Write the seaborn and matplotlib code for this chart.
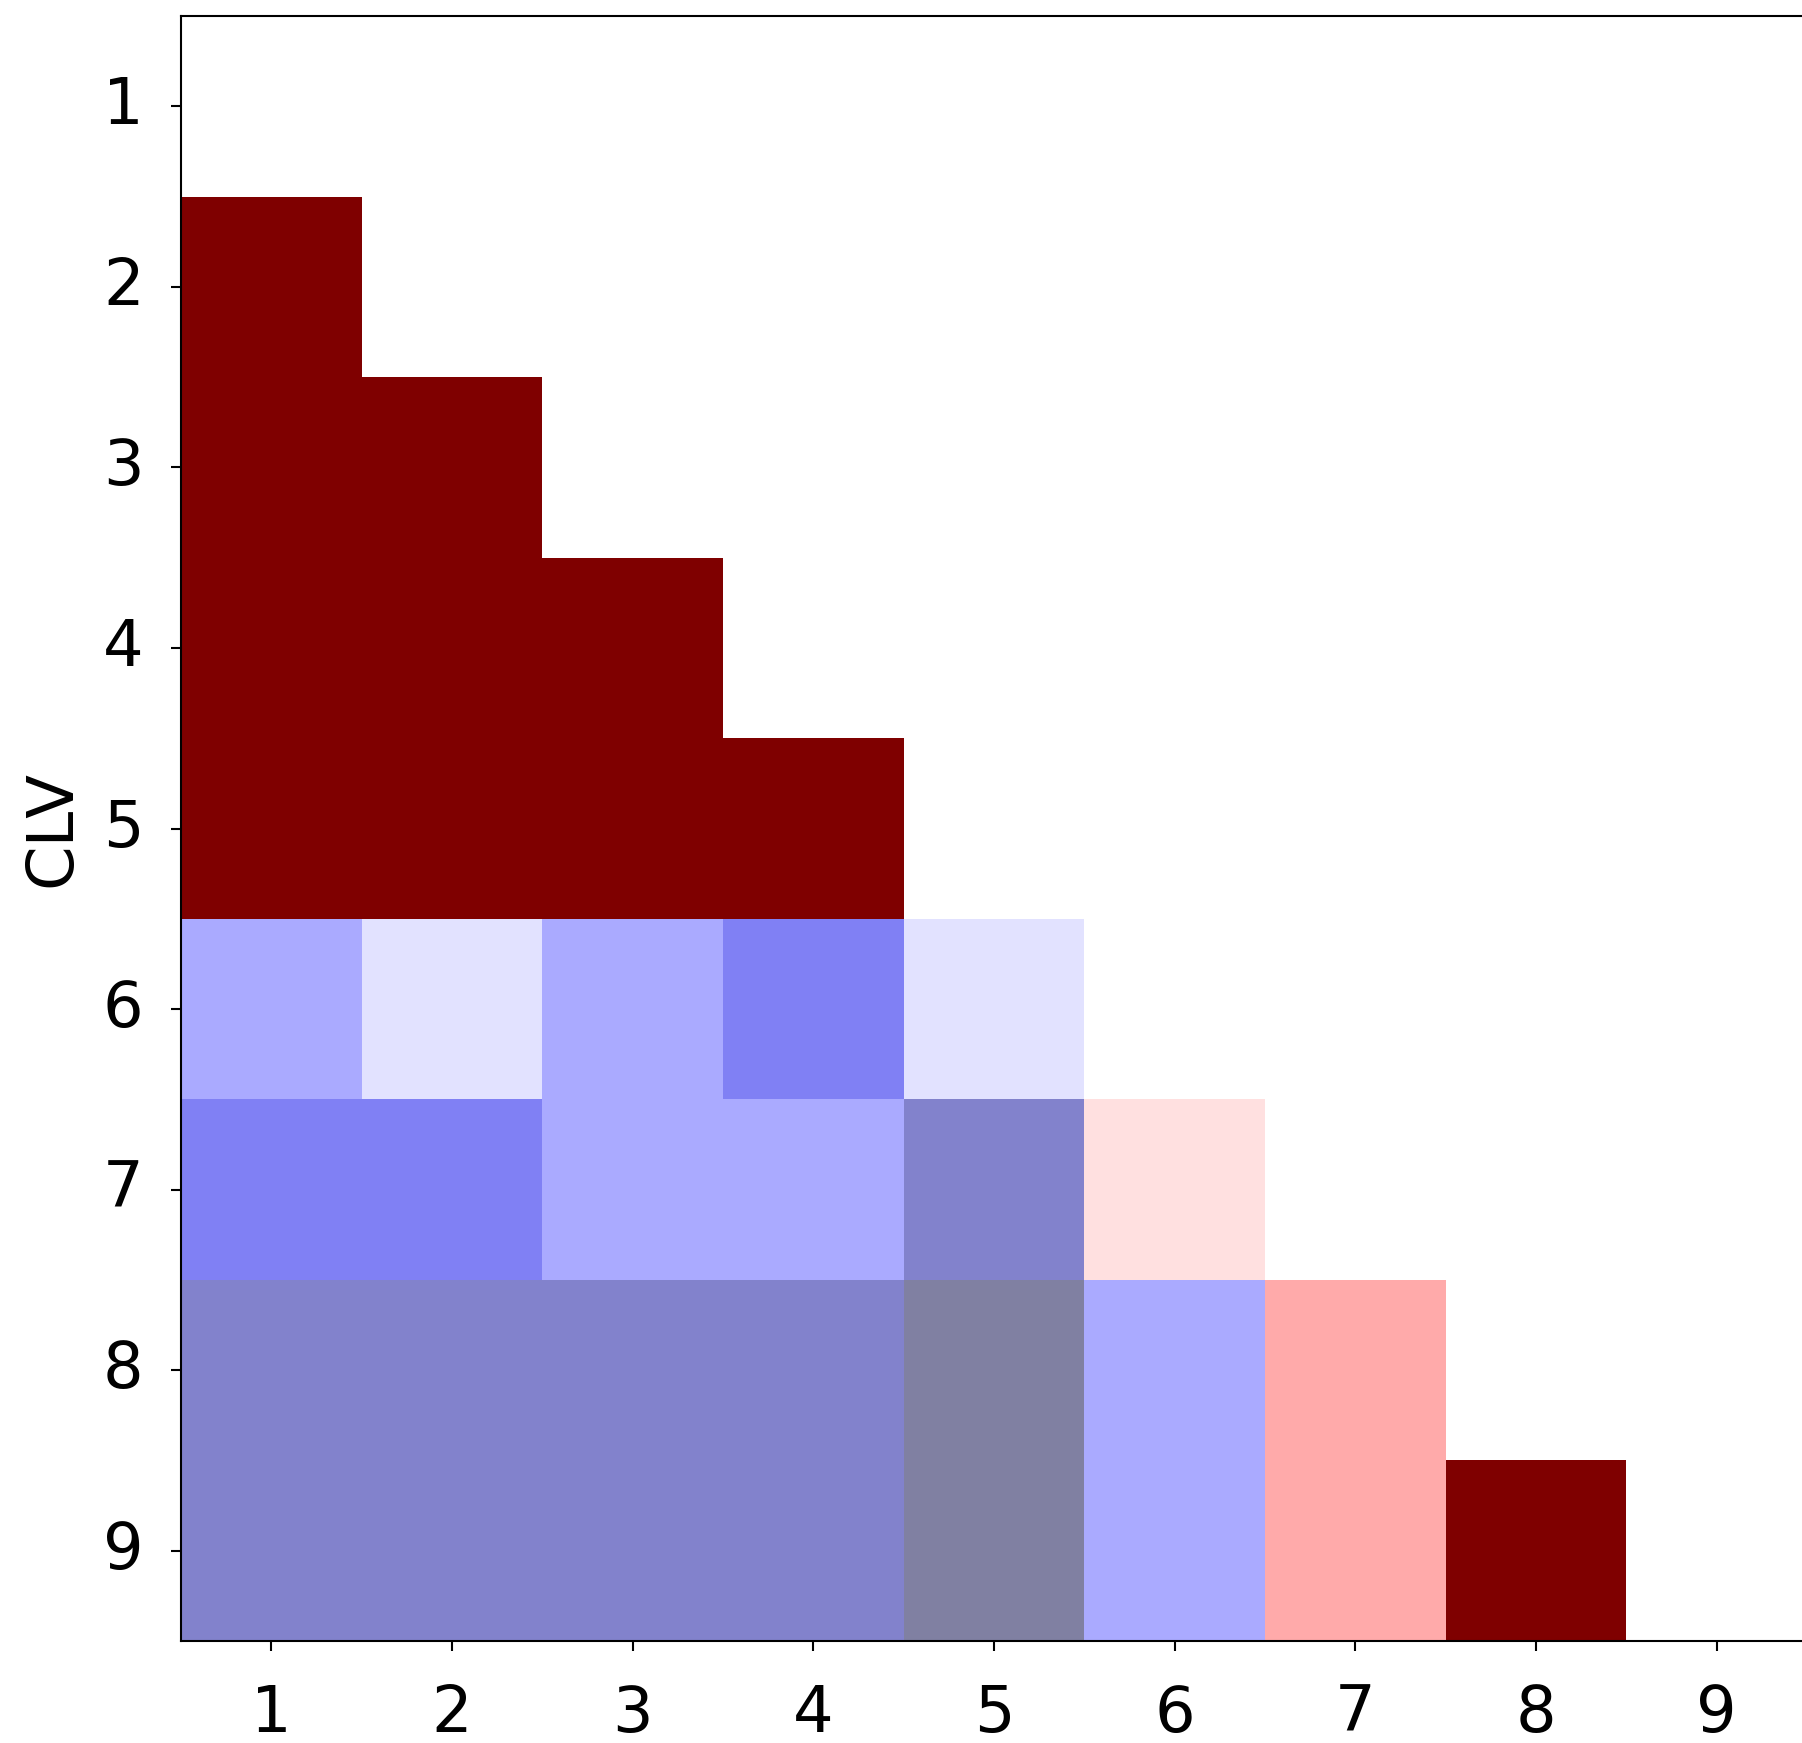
import numpy as np
import pandas as pd
import matplotlib
matplotlib.use("Agg")
import matplotlib.pyplot as plt
from matplotlib.colors import ListedColormap
import seaborn as sns

# CLV levels per row (row 1 .. 9), one value per column 1 .. 9, nan = empty
labels = [1, 2, 3, 4, 5, 6, 7, 8, 9]
row1 = [np.nan] * 9
row2 = [3, np.nan, np.nan, np.nan, np.nan, np.nan, np.nan, np.nan, np.nan]
row3 = [3, 3, np.nan, np.nan, np.nan, np.nan, np.nan, np.nan, np.nan]
row4 = [3, 3, 3, np.nan, np.nan, np.nan, np.nan, np.nan, np.nan]
row5 = [3, 3, 3, 3, np.nan, np.nan, np.nan, np.nan, np.nan]
row6 = [-2, -1, -2, -3, -1, np.nan, np.nan, np.nan, np.nan]
row7 = [-3, -3, -2, -2, -4, 1, np.nan, np.nan, np.nan]
row8 = [-4, -4, -4, -4, -5, -2, 2, np.nan, np.nan]
row9 = [-4, -4, -4, -4, -5, -2, 2, 3, np.nan]

# colour for each level -5 .. 3
level_colors = ["#8080a2", "#8282cc", "#8080f4", "#aaaaff", "#e2e2ff",
                "#ffffff", "#ffe0e0", "#ffaaaa", "#7f0000"]

df = pd.DataFrame([row1, row2, row3, row4, row5, row6, row7, row8, row9],
                  index=labels, columns=labels)

fig = plt.figure(figsize=(18.02, 17.43), dpi=100)
# axes runs slightly past the right edge of the figure, as in the original crop
ax = fig.add_axes([181 / 1802, (1743 - 1641) / 1743, 1626 / 1802, 1625 / 1743])

sns.heatmap(df, mask=df.isna(), cmap=ListedColormap(level_colors),
            vmin=-5.5, vmax=3.5, cbar=False, ax=ax)

for side in ["left", "bottom", "top"]:
    ax.spines[side].set_visible(True)
    ax.spines[side].set_linewidth(1.5)
    ax.spines[side].set_color("black")
ax.spines["right"].set_visible(False)

ax.tick_params(axis="both", length=7, width=1.5, labelsize=46,
               left=True, bottom=True)
ax.tick_params(axis="y", pad=20)
ax.tick_params(axis="x", pad=23)
ax.set_yticklabels(labels, rotation=0)
ax.set_xticklabels(labels, rotation=0)
ax.set_xlabel("")
ax.set_ylabel("CLV", fontsize=46, labelpad=14)

fig.savefig("out.png", dpi=100)
